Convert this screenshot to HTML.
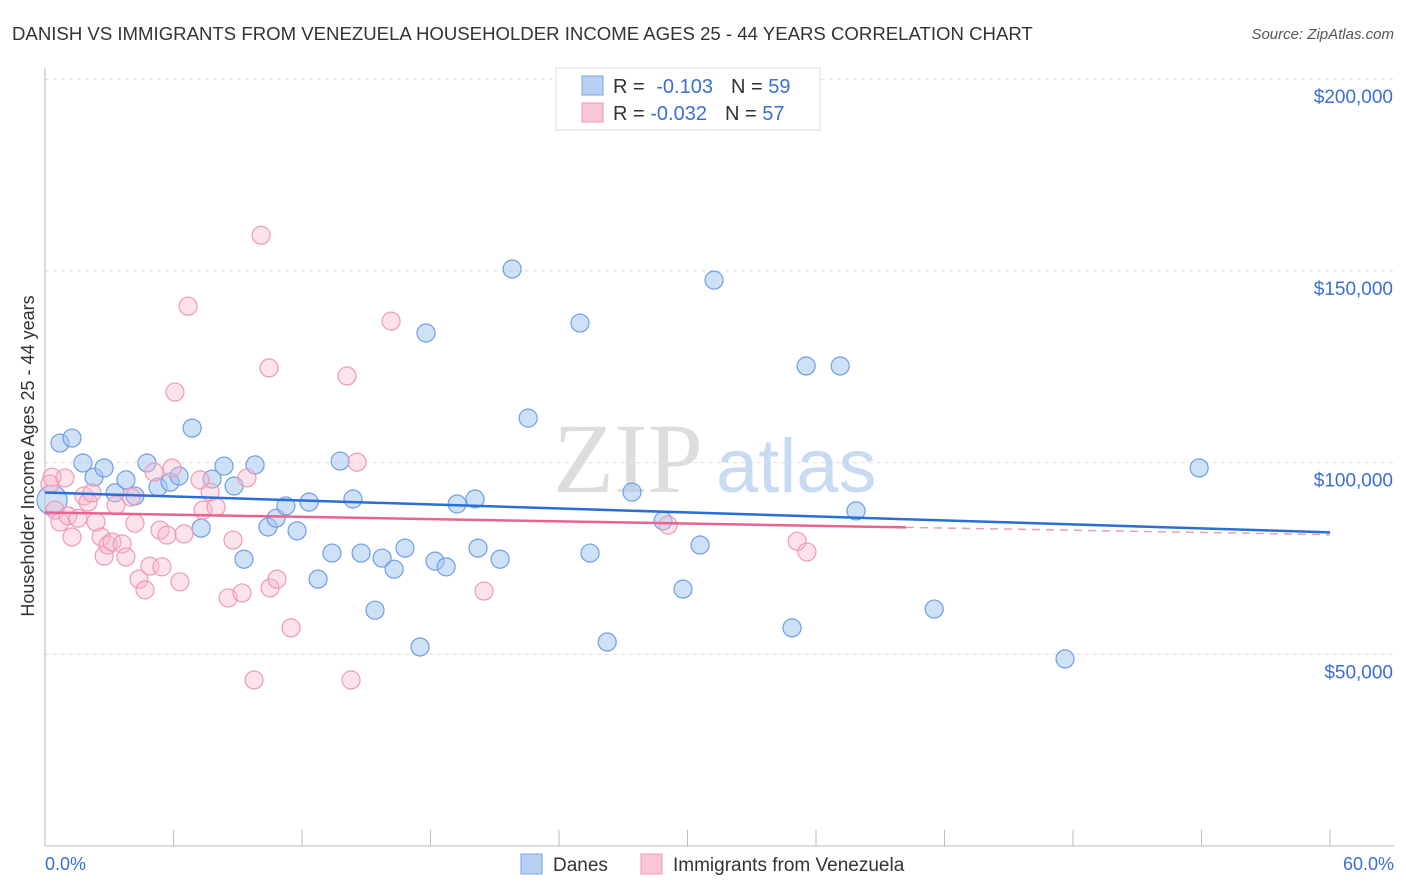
<!DOCTYPE html>
<html><head><meta charset="utf-8"><style>
body{margin:0;background:#fff;font-family:"Liberation Sans",sans-serif}
svg{display:block}
</style></head><body>
<svg id="chart" width="1406" height="892" xmlns="http://www.w3.org/2000/svg">
<text x="12" y="40" font-size="18.6" fill="#333">DANISH VS IMMIGRANTS FROM VENEZUELA HOUSEHOLDER INCOME AGES 25 - 44 YEARS CORRELATION CHART</text>
<text x="1394" y="39" font-size="15" fill="#555" font-style="italic" text-anchor="end">Source: ZipAtlas.com</text>
<g id="grid"></g>
<g id="axes"></g>
<text x="553" y="492" font-size="100" fill="#ddd" font-family="Liberation Serif,serif">ZIP</text>
<text x="716" y="492" font-size="76" fill="#c9dbf2">atlas</text>
<g id="pts"></g>
<g id="trends"></g>
<text transform="translate(34,456) rotate(-90)" font-size="18" fill="#333" text-anchor="middle">Householder Income Ages 25 - 44 years</text>
<text x="45" y="870" font-size="18" fill="#3b6fd4">0.0%</text>
<text x="1394" y="870" font-size="18" fill="#3b6fd4" text-anchor="end">60.0%</text>
<g>
<rect x="556" y="68" width="264" height="62" fill="#fff" stroke="#ddd"/>
<rect x="582" y="76" width="21" height="19" fill="#b7d0f3" stroke="#7aa6e6"/>
<rect x="582" y="103" width="21" height="19" fill="#f9c6d6" stroke="#ec9ab6"/>
<text x="613" y="93" font-size="20" fill="#333">R = <tspan fill="#3b6fd4" dx="6">-0.103</tspan><tspan dx="18" fill="#333">N = </tspan><tspan fill="#3b6fd4">59</tspan></text>
<text x="613" y="120" font-size="20" fill="#333">R = <tspan fill="#3b6fd4">-0.032</tspan><tspan dx="18" fill="#333">N = </tspan><tspan fill="#3b6fd4">57</tspan></text>
</g>
<g>
<rect x="521" y="854" width="21" height="20" fill="#b7d0f3" stroke="#7aa6e6"/>
<text x="553" y="871" font-size="19" fill="#333">Danes</text>
<rect x="641" y="854" width="21" height="20" fill="#f9c6d6" stroke="#ec9ab6"/>
<text x="673" y="871" font-size="19" fill="#333">Immigrants from Venezuela</text>
</g>
</svg>
<script>
const yTicks=[50000,100000,150000,200000];
const yTickLabels=["$50,000","$100,000","$150,000","$200,000"];
const xTicks=[0,6,12,18,24,30,36,42,48,54,60];
const blueX=[0.33,0.70,1.26,1.77,2.29,2.76,3.27,3.78,4.20,4.76,5.28,5.84,6.26,6.87,7.29,7.80,8.36,8.83,9.29,9.81,10.41,10.79,11.25,11.77,12.33,12.75,13.40,13.78,14.38,14.76,15.41,15.74,16.30,16.81,17.51,17.79,18.21,18.73,19.24,20.08,20.22,21.25,21.81,22.56,24.98,25.45,26.25,27.41,28.86,29.79,30.59,31.24,34.88,35.54,37.13,37.87,41.52,47.63,53.89];
const blueY=[90.2,105.1,106.4,99.9,96.2,98.6,92.1,95.5,91.3,99.9,93.6,94.9,96.5,109.0,82.9,95.7,99.1,93.9,74.8,99.4,83.2,85.5,88.7,82.2,89.7,69.6,76.4,100.4,90.5,76.4,61.5,75.1,72.2,77.7,51.9,133.8,74.3,72.8,89.2,90.5,77.7,74.8,150.5,111.6,136.4,76.4,53.2,92.3,84.8,67.0,78.5,147.6,56.9,125.2,125.2,87.4,61.8,48.8,98.6];
const pinkX=[0.33,0.23,0.47,0.70,0.93,1.07,1.26,1.54,1.82,2.01,2.19,2.38,2.62,2.76,2.94,3.13,3.32,3.60,3.78,4.02,4.20,4.39,4.67,4.90,5.09,5.37,5.46,5.70,5.93,6.07,6.30,6.49,6.68,7.24,7.38,7.71,7.99,8.55,8.78,9.20,9.43,9.76,10.09,10.46,10.51,10.83,11.49,14.10,14.29,14.57,16.16,20.50,29.09,35.12,35.58];
const pinkY=[96.2,94.4,87.6,84.5,96.0,86.1,80.6,85.5,91.3,89.7,92.1,84.5,80.6,75.6,78.5,79.3,88.9,78.8,75.4,91.0,84.2,69.6,66.8,73.0,97.5,82.4,72.8,81.1,98.6,118.4,68.9,81.4,140.8,95.5,87.6,92.3,88.4,64.7,79.8,66.0,96.0,43.3,159.3,124.7,67.3,69.6,56.9,122.6,43.3,100.1,136.9,66.5,83.7,79.5,76.7];
const blueTrend=[92.2,81.8];
const pinkTrend=[87.0,81.2];
const pinkSolidEnd=40.2;
const X=v=>45+v/60*1285;
const Y=v=>846-v/50000*191.7;
const NS="http://www.w3.org/2000/svg";
function mk(tag,attrs,parent){const e=document.createElementNS(NS,tag);for(const k in attrs)e.setAttribute(k,attrs[k]);parent.appendChild(e);return e;}
const grid=document.getElementById('grid'),axes=document.getElementById('axes'),pts=document.getElementById('pts'),tr=document.getElementById('trends');
yTicks.forEach((t,i)=>{
 const l=mk('line',{x1:45,x2:1394,y1:Y(t),y2:Y(t),stroke:'#ddd','stroke-dasharray':'4 4'},grid);
 
 
 const tx=mk('text',{x:1393,y:Y(t)+24,'font-size':19,fill:'#3b6fd4','text-anchor':'end'},axes);
 tx.textContent=yTickLabels[i];
 
 
});
mk('line',{x1:45,x2:1394,y1:846,y2:846,stroke:'#bbb'},axes);
mk('line',{x1:45,x2:45,y1:68,y2:846,stroke:'#bbb'},axes);
xTicks.forEach(t=>{const l=mk('line',{x1:X(t),x2:X(t),y1:830,y2:846,stroke:'#bbb'},axes);
 
 });
blueX.forEach((x,i)=>{const c=mk('circle',{cx:X(x),cy:Y(blueY[i]*1000),r:i==0?15:9,fill:'rgba(160,195,240,0.5)',stroke:'#6e9ee6','stroke-width':1.2},pts);
 
 });
pinkX.forEach((x,i)=>{const c=mk('circle',{cx:X(x),cy:Y(pinkY[i]*1000),r:9,fill:'rgba(247,185,205,0.4)',stroke:'#ee9ab5','stroke-width':1.2},pts);
 
 });
const b=mk('line',{x1:X(0),y1:Y(blueTrend[0]*1000),x2:X(60),y2:Y(blueTrend[1]*1000),stroke:'#2a6fd6','stroke-width':2.5},tr);


const pAt=x=>pinkTrend[0]+(pinkTrend[1]-pinkTrend[0])*x/60;
const p=mk('line',{x1:X(0),y1:Y(pinkTrend[0]*1000),x2:X(pinkSolidEnd),y2:Y(pAt(pinkSolidEnd)*1000),stroke:'#e8648e','stroke-width':2.5},tr);


const pd=mk('line',{x1:X(pinkSolidEnd),y1:Y(pAt(pinkSolidEnd)*1000),x2:X(60),y2:Y(pinkTrend[1]*1000),stroke:'#e8a0b8','stroke-width':1.5,'stroke-dasharray':'8 6'},tr);


</script>
</body></html>
